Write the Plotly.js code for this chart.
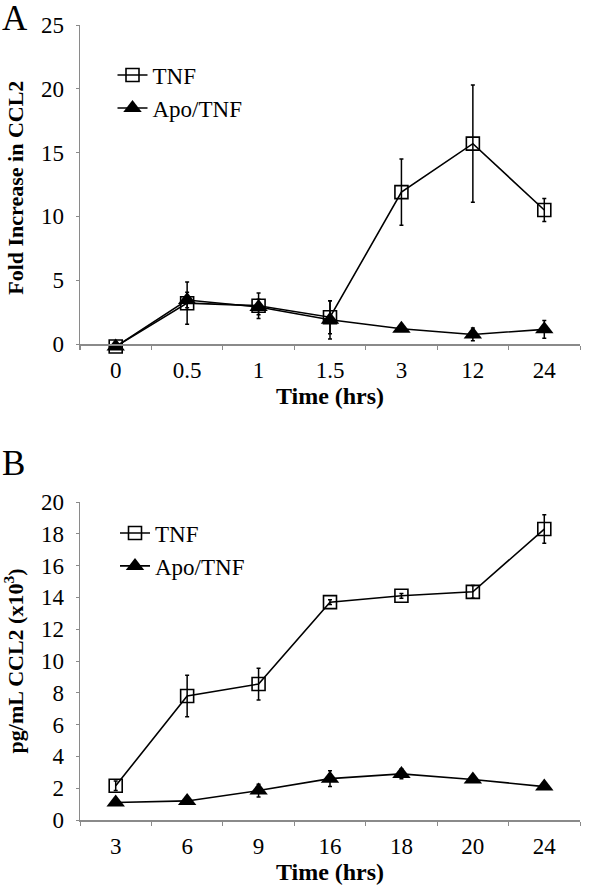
<!DOCTYPE html>
<html>
<head>
<meta charset="utf-8">
<script src="https://cdn.plot.ly/plotly-3.0.1.min.js"></script>
<style>html,body{margin:0;padding:0;background:#fff;}#chart{width:600px;height:890px;}</style>
</head>
<body>
<div id="chart"></div>
<script>
// Panel A data
const timesA = ["0", "0.5", "1", "1.5", "3", "12", "24"];
const tnfA = [-0.2, 3.2, 3.0, 2.1, 11.9, 15.7, 10.5];
const tnfAErr = [0, 1.65, 1.0, 1.3, 2.6, 4.6, 0.9];
const apoA = [-0.2, 3.45, 2.9, 1.9, 1.2, 0.75, 1.15];
const apoAErr = [0, 0.6, 0.6, 1.5, 0.2, 0.5, 0.7];

// Panel B data
const timesB = ["3", "6", "9", "16", "18", "20", "24"];
const tnfB = [2.15, 7.8, 8.55, 13.7, 14.1, 14.35, 18.3];
const tnfBErr = [0.3, 1.3, 1.0, 0.15, 0.15, 0.4, 0.9];
const apoB = [1.1, 1.2, 1.85, 2.6, 2.9, 2.55, 2.1];
const apoBErr = [0.1, 0.1, 0.4, 0.5, 0.3, 0.1, 0.1];

const serif = "Liberation Serif";
const axisGray = "#8a8a8a";

function errOpts(arr) {
  return {type: "data", array: arr, visible: true, color: "#000", thickness: 1.5, width: 2};
}
const sqMarker = {symbol: "square-open", size: 13, color: "#000", line: {width: 1.6, color: "#000"}};
const triMarker = {symbol: "triangle-up", size: 16, color: "#000", line: {width: 0, color: "#000"}};
const lineStyle = {color: "#000", width: 1.6};

const traces = [
  {x: timesA, y: tnfA, name: "TNF", type: "scatter", mode: "lines+markers",
   xaxis: "x", yaxis: "y", line: lineStyle, marker: sqMarker, error_y: errOpts(tnfAErr),
   legend: "legend", cliponaxis: false},
  {x: timesA, y: apoA, name: "Apo/TNF", type: "scatter", mode: "lines+markers",
   xaxis: "x", yaxis: "y", line: lineStyle, marker: triMarker, error_y: errOpts(apoAErr),
   legend: "legend", cliponaxis: false},
  {x: timesB, y: tnfB, name: "TNF", type: "scatter", mode: "lines+markers",
   xaxis: "x2", yaxis: "y2", line: lineStyle, marker: sqMarker, error_y: errOpts(tnfBErr),
   legend: "legend2", cliponaxis: false},
  {x: timesB, y: apoB, name: "Apo/TNF", type: "scatter", mode: "lines+markers",
   xaxis: "x2", yaxis: "y2", line: lineStyle, marker: triMarker, error_y: errOpts(apoBErr),
   legend: "legend2", cliponaxis: false}
];

function xAxis(extra) {
  return Object.assign({
    type: "category", domain: [0, 1], range: [-0.5, 6.5],
    showline: true, linecolor: axisGray, linewidth: 1.5, mirror: false,
    ticks: "outside", tickson: "boundaries", ticklen: 4, tickcolor: axisGray, tickwidth: 1,
    showgrid: false, zeroline: false, fixedrange: true,
    tickfont: {family: serif, size: 23, color: "#000"}, ticklabelstandoff: 5,
    title: {text: "<b>Time (hrs)</b>", font: {family: serif, size: 24, color: "#000"}, standoff: 5}
  }, extra);
}
function yAxis(anchor, domain, range, dtick, title) {
  return {
    anchor: anchor, domain: domain, range: range, dtick: dtick, tick0: 0,
    showline: true, linecolor: axisGray, linewidth: 1.5,
    ticks: "outside", ticklen: 3, tickcolor: axisGray, tickwidth: 1,
    showgrid: false, zeroline: false, fixedrange: true,
    tickfont: {family: serif, size: 23, color: "#000"}, ticklabelstandoff: 7,
    title: {text: title, font: {family: serif, size: 22, color: "#000"}, standoff: 11}
  };
}

const layout = {
  width: 600, height: 890,
  margin: {l: 80, r: 20, t: 25, b: 70},
  paper_bgcolor: "#fff", plot_bgcolor: "#fff",
  font: {family: serif, size: 23, color: "#000"},
  xaxis: xAxis({anchor: "free", position: 0.5987}),
  yaxis: yAxis("x", [0.5907, 1.0], [-0.5, 25], 5, "<b>Fold Increase in CCL2</b>"),
  xaxis2: xAxis({anchor: "y2"}),
  yaxis2: yAxis("x2", [0, 0.4], [0, 20], 2, "<b>pg/mL CCL2 (x10<sup>3</sup>)</b>"),
  legend: {x: 0.065, y: 0.964, xanchor: "left", yanchor: "top", bgcolor: "rgba(0,0,0,0)",
           font: {family: serif, size: 23, color: "#000"}, tracegroupgap: 0},
  legend2: {x: 0.07, y: 0.388, xanchor: "left", yanchor: "top", bgcolor: "rgba(0,0,0,0)",
            font: {family: serif, size: 23, color: "#000"}, tracegroupgap: 0},
  showlegend: true,
  annotations: [
    {text: "A", xref: "paper", yref: "paper", x: -0.16, y: 1.035, xanchor: "left", yanchor: "top",
     showarrow: false, font: {family: serif, size: 35, color: "#000"}},
    {text: "B", xref: "paper", yref: "paper", x: -0.16, y: 0.475, xanchor: "left", yanchor: "top",
     showarrow: false, font: {family: serif, size: 35, color: "#000"}}
  ]
};

Plotly.newPlot("chart", traces, layout, {displayModeBar: false, staticPlot: true});
</script>
</body>
</html>
